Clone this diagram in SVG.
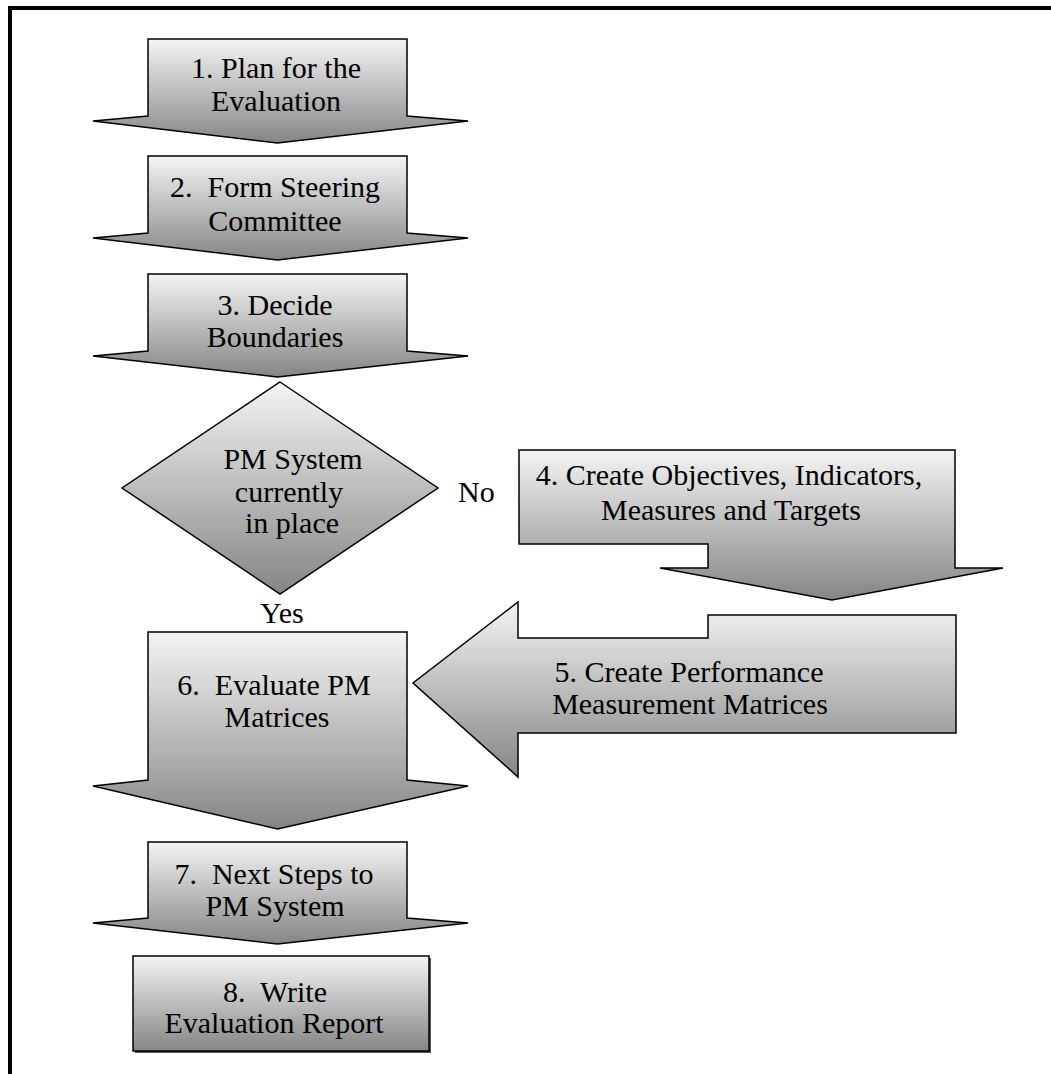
<svg xmlns="http://www.w3.org/2000/svg" width="1051" height="1074" viewBox="0 0 1051 1074">
<defs>
<linearGradient id="g" x1="0" y1="0" x2="0" y2="1">
<stop offset="0" stop-color="#f4f4f4"/>
<stop offset="1" stop-color="#858585"/>
</linearGradient>
<style>
.s{fill:url(#g);stroke:#000;stroke-width:1.5;stroke-linejoin:miter}
.sh{fill:#555;stroke:none}
.t{font-family:"Liberation Serif","Times New Roman",serif;font-size:30px;fill:#000;text-anchor:middle}
.l{font-family:"Liberation Serif","Times New Roman",serif;font-size:30px;fill:#000}
</style>
</defs>
<rect width="1051" height="1074" fill="#fff"/>
<g id="frame">
<path d="M10 1074 V8 H1051" fill="none" stroke="#000" stroke-width="4"/>
</g>
<g id="connectors"></g>
<g id="step1">
<path class="s" d="M148 39 H407 V116 L468 121 L277.5 143 L93 121 L148 116 Z"/>
<text class="t" x="276" y="78">1. Plan for the</text>
<text class="t" x="276" y="111">Evaluation</text>
</g>
<g id="step2">
<path class="s" d="M148 156 H407 V233 L468 238 L277.5 260 L93 238 L148 233 Z"/>
<text class="t" x="275" y="197">2.&#160; Form Steering</text>
<text class="t" x="275" y="231">Committee</text>
</g>
<g id="step3">
<path class="s" d="M148 274 H407 V351 L468 356 L277.5 377 L93 356 L148 351 Z"/>
<text class="t" x="275" y="315">3. Decide</text>
<text class="t" x="275" y="347">Boundaries</text>
</g>
<g id="decision">
<path class="s" d="M280 382 L438 488 L280 594 L122 488 Z"/>
<text class="t" x="293" y="469">PM System</text>
<text class="t" x="289" y="502">currently</text>
<text class="t" x="292" y="533">in place</text>
<text class="l" x="458" y="502">No</text>
<text class="l" x="260" y="623">Yes</text>
</g>
<g id="step4">
<path class="s" d="M519 450 H955 V568 H1003 L832 600 L660 568 H708 V544 H519 Z"/>
<text class="t" x="729" y="485">4. Create Objectives, Indicators,</text>
<text class="t" x="731" y="520">Measures and Targets</text>
</g>
<g id="step5">
<path class="s" d="M708 615 H956 V733 H518 V777 L413 683 L518 602 V638 H708 Z"/>
<text class="t" x="689" y="682">5. Create Performance</text>
<text class="t" x="690" y="714">Measurement Matrices</text>
</g>
<g id="step6">
<path class="s" d="M148 632 H407 V780 L468 786 L277.5 829 L93 786 L148 780 Z"/>
<text class="t" x="274" y="695">6.&#160; Evaluate PM</text>
<text class="t" x="277" y="727">Matrices</text>
</g>
<g id="step7">
<path class="s" d="M148 842 H407 V918 L468 923 L277.5 944 L93 923 L148 918 Z"/>
<text class="t" x="274" y="884">7.&#160; Next Steps to</text>
<text class="t" x="275" y="916">PM System</text>
</g>
<g id="step8">
<rect class="sh" x="135" y="958" width="296" height="95"/>
<rect class="s" x="133" y="956" width="296" height="95"/>
<text class="t" x="275" y="1002">8.&#160; Write</text>
<text class="t" x="274" y="1033">Evaluation Report</text>
</g>
</svg>
